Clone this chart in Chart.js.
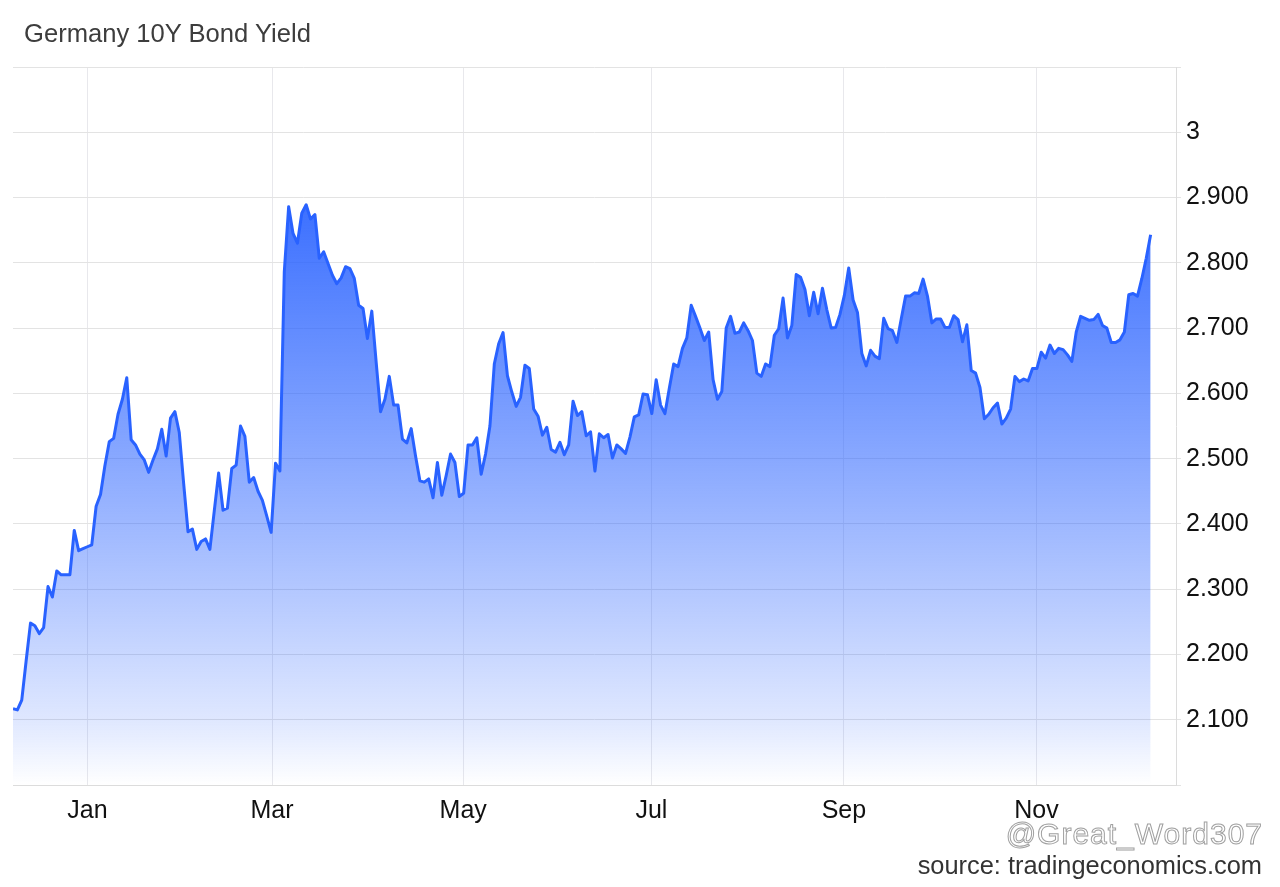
<!DOCTYPE html>
<html>
  <head>
    <title>Germany 10Y Bond Yield</title>
    <script src="https://cdn.jsdelivr.net/npm/chart.js"></script>
    <style>
      body { margin: 0; background: #fff; }
      #wrap { position: relative; width: 1280px; height: 887px; font-family: "Liberation Sans", Arial, sans-serif; }
      #title { position: absolute; left: 24px; top: 21px; font-size: 25.6px; line-height: 25px; color: #3d3d3d; white-space: nowrap; }
      #mark { position: absolute; right: 17px; top: 819px; font-size: 30px; line-height: 30px; letter-spacing: 1px; color: #fff; -webkit-text-stroke: 1px #a0a0a0; white-space: nowrap; }
      #source { position: absolute; right: 18px; top: 853px; font-size: 25.4px; line-height: 25px; color: #333; white-space: nowrap; }
    </style>
  </head>
  <body>
    <div id="wrap">
      <canvas id="myChart" width="1280" height="887"></canvas>
      <div id="title">Germany 10Y Bond Yield</div>
      <div id="mark">@Great_Word307</div>
      <div id="source">source: tradingeconomics.com</div>
    </div>

  <script>
    // daily closes (mid Dec -> early Dec)
    const yields = [
      2.117, 2.115, 2.130, 2.190, 2.248, 2.244, 2.232, 2.241, 2.304, 2.288,
      2.328, 2.322, 2.322, 2.322, 2.390, 2.359, 2.362, 2.365, 2.368, 2.427,
      2.445, 2.489, 2.526, 2.531, 2.568, 2.591, 2.624, 2.529, 2.521, 2.507,
      2.498, 2.479, 2.498, 2.515, 2.545, 2.504, 2.562, 2.572, 2.540, 2.462,
      2.388, 2.392, 2.361, 2.373, 2.377, 2.361, 2.420, 2.478, 2.421, 2.424,
      2.485, 2.490, 2.550, 2.534, 2.464, 2.471, 2.450, 2.436, 2.412, 2.387,
      2.493, 2.481, 2.786, 2.886, 2.845, 2.830, 2.876, 2.889, 2.867, 2.874,
      2.807, 2.817, 2.799, 2.781, 2.768, 2.777, 2.794, 2.791, 2.776, 2.735,
      2.730, 2.684, 2.726, 2.648, 2.572, 2.591, 2.626, 2.582, 2.582, 2.530,
      2.524, 2.546, 2.504, 2.466, 2.464, 2.469, 2.440, 2.494, 2.444, 2.474,
      2.507, 2.494, 2.442, 2.447, 2.521, 2.521, 2.532, 2.476, 2.507, 2.550,
      2.645, 2.676, 2.693, 2.627, 2.602, 2.580, 2.594, 2.643, 2.638, 2.576,
      2.565, 2.536, 2.548, 2.514, 2.510, 2.525, 2.506, 2.521, 2.588, 2.566,
      2.572, 2.535, 2.541, 2.481, 2.538, 2.532, 2.537, 2.501, 2.521, 2.515,
      2.508, 2.533, 2.564, 2.567, 2.599, 2.598, 2.569, 2.621, 2.582, 2.569,
      2.608, 2.645, 2.641, 2.669, 2.685, 2.735, 2.718, 2.700, 2.681, 2.694,
      2.621, 2.591, 2.603, 2.700, 2.718, 2.692, 2.694, 2.708, 2.696, 2.681,
      2.631, 2.626, 2.645, 2.641, 2.689, 2.699, 2.746, 2.685, 2.704, 2.782,
      2.778, 2.759, 2.719, 2.755, 2.722, 2.761, 2.728, 2.700, 2.701, 2.721,
      2.750, 2.792, 2.743, 2.724, 2.661, 2.642, 2.666, 2.657, 2.653, 2.715,
      2.699, 2.696, 2.678, 2.714, 2.749, 2.749, 2.754, 2.753, 2.775, 2.749,
      2.708, 2.714, 2.714, 2.701, 2.701, 2.719, 2.713, 2.679, 2.705, 2.635,
      2.631, 2.609, 2.561, 2.568, 2.578, 2.585, 2.553, 2.562, 2.576, 2.626,
      2.618, 2.622, 2.619, 2.638, 2.638, 2.663, 2.654, 2.674, 2.661, 2.669,
      2.667, 2.659, 2.649, 2.694, 2.718, 2.715, 2.712, 2.713, 2.721, 2.704,
      2.700, 2.678, 2.678, 2.682, 2.694, 2.751, 2.753, 2.749, 2.776, 2.807,
      2.843
    ];

    // where each month starts, in trading-day units
    const monthLabels = ["Jan", "Mar", "May", "Jul", "Sep", "Nov"];
    const monthPos = [17.0, 59.2, 102.9, 145.9, 189.9, 233.9];

    const blue = "41, 98, 255";

    function fillGradient(ctx) {
      const area = ctx.chart.chartArea;
      if (!area) return "rgba(" + blue + ",0.5)";
      const g = ctx.chart.ctx.createLinearGradient(0, area.top, 0, area.bottom);
      g.addColorStop(0, "rgba(" + blue + ",1)");
      g.addColorStop(0.2, "rgba(" + blue + ",0.9)");
      g.addColorStop(0.55, "rgba(" + blue + ",0.55)");
      g.addColorStop(0.75, "rgba(" + blue + ",0.33)");
      g.addColorStop(0.91, "rgba(" + blue + ",0.15)");
      g.addColorStop(1, "rgba(" + blue + ",0)");
      return g;
    }

    const data = {
      datasets: [{
        label: "Germany 10Y",
        data: yields.map((v, i) => ({ x: i, y: v })),
        borderColor: "rgb(" + blue + ")",
        borderWidth: 3,
        backgroundColor: fillGradient,
        fill: "start",
        pointRadius: 0,
        tension: 0,
        borderJoinStyle: "round"
      }]
    };

    const config = {
      type: "line",
      data: data,
      options: {
        responsive: false,
        animation: false,
        layout: { padding: { left: 13, top: 67, right: 0, bottom: 0 } },
        plugins: { legend: { display: false }, tooltip: { enabled: false } },
        scales: {
          x: {
            type: "linear",
            min: 0,
            max: 265.8,
            afterBuildTicks: (scale) => { scale.ticks = monthPos.map(v => ({ value: v })); },
            afterFit: (scale) => { scale.height = 102; },
            ticks: {
              autoSkip: false,
              maxRotation: 0,
              padding: 11,
              color: "#111",
              font: { family: "'Liberation Sans', Arial, sans-serif", size: 25 },
              callback: (v, i) => monthLabels[i]
            },
            grid: { color: "#e8e8ec", lineWidth: 1, drawTicks: false },
            border: { display: true, color: "#dcdcdc", width: 1 }
          },
          y: {
            position: "right",
            min: 2.0,
            max: 3.1,
            afterFit: (scale) => { scale.width = 104; },
            ticks: {
              stepSize: 0.1,
              padding: 5,
              color: "#111",
              font: { family: "'Liberation Sans', Arial, sans-serif", size: 25 },
              callback: (v) => {
                if (v < 2.05 || v > 3.05) return "";
                if (Math.abs(v - 3) < 1e-6) return "3";
                return v.toFixed(3);
              }
            },
            grid: { color: "#e3e3e3", lineWidth: 1, drawTicks: true, tickLength: 5 },
            border: { display: true, color: "#dcdcdc", width: 1 }
          }
        }
      }
    };

    window.myChart = new Chart(document.getElementById("myChart"), config);
  </script>
  </body>
</html>
